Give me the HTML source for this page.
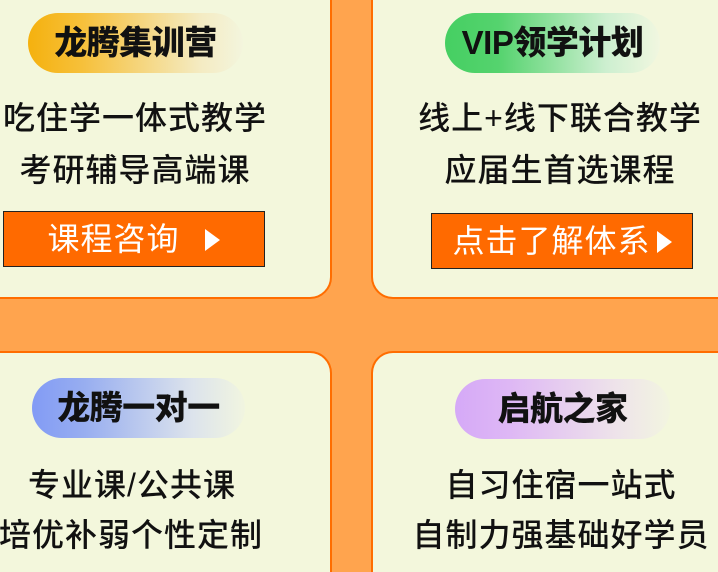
<!DOCTYPE html>
<html><head><meta charset="utf-8"><style>
*{margin:0;padding:0;box-sizing:border-box}
html,body{width:718px;height:572px;overflow:hidden}
body{background:#FFA44E;font-family:"Liberation Sans","Noto Sans CJK SC",sans-serif}
#w{position:relative;width:718px;height:572px;overflow:hidden;background:#FFA44E}
.card{position:absolute;background:#F3F7DC;border:2px solid #FF6D00;border-radius:22px}
.pill{position:absolute;height:60px;border-radius:30px;font-weight:900;font-size:33px;line-height:60px;text-align:center;color:#111;letter-spacing:-0.5px}
.t{position:absolute;font-size:32px;line-height:36px;color:#111;text-align:center;white-space:nowrap;letter-spacing:1px;font-weight:500}
.btn{position:absolute;background:#FF6A00;border:1.5px solid #222;color:#fff;font-size:32px;line-height:54px;text-align:center;white-space:nowrap;letter-spacing:1px}
.tri{display:inline-block;width:0;height:0;border-left:15px solid #fff;border-top:11px solid transparent;border-bottom:11px solid transparent;vertical-align:middle;margin-left:8px;margin-top:-4px}
</style></head><body><div id="w">
<div class="card" style="left:-30px;top:-30px;width:362px;height:329px"></div>
<div class="card" style="left:371px;top:-30px;width:347px;height:329px;border-right:none;border-top-right-radius:0;border-bottom-right-radius:0"></div>
<div class="card" style="left:-30px;top:351px;width:362px;height:221px;border-bottom:none;border-bottom-left-radius:0;border-bottom-right-radius:0"></div>
<div class="card" style="left:371px;top:351px;width:347px;height:221px;border-bottom:none;border-right:none;border-radius:22px 0 0 0"></div>

<div class="pill" style="left:28px;top:13px;width:215px;background:linear-gradient(90deg,#F5B10E 0%,#F6C03A 25%,#F4EBC2 80%,#F3F5DD 100%)">龙腾集训营</div>
<div class="t" style="left:0;width:270px;top:100px">吃住学一体式教学</div>
<div class="t" style="left:0;width:270px;top:152px">考研辅导高端课</div>
<div class="btn" style="left:3px;top:211px;width:262px;height:56px">课程咨询 <span class="tri" style="margin-left:16px"></span></div>

<div class="pill" style="left:445px;top:13px;width:215px;background:linear-gradient(90deg,#45CF62 0%,#55D36E 25%,#CDEFD0 75%,#F1F7E0 100%)">VIP领学计划</div>
<div class="t" style="left:414px;width:292px;top:100px">线上+线下联合教学</div>
<div class="t" style="left:414px;width:292px;top:152px">应届生首选课程</div>
<div class="btn" style="left:431px;top:213px;width:262px;height:56px">点击了解体系<span class="tri" style="margin-left:6px"></span></div>

<div class="pill" style="left:32px;top:378px;width:213px;background:linear-gradient(90deg,#829BF5 0%,#98AEF0 25%,#DCE3EC 75%,#F1F5E0 100%)">龙腾一对一</div>
<div class="t" style="left:0;width:264px;top:467px">专业课/公共课</div>
<div class="t" style="left:-4px;width:270px;top:517px">培优补弱个性定制</div>

<div class="pill" style="left:455px;top:379px;width:215px;background:linear-gradient(90deg,#D5A9F7 0%,#DEB7F5 25%,#EEE3EA 75%,#F2F5E0 100%)">启航之家</div>
<div class="t" style="left:428px;width:266px;top:467px">自习住宿一站式</div>
<div class="t" style="left:408px;width:306px;top:517px">自制力强基础好学员</div>
</div></body></html>
